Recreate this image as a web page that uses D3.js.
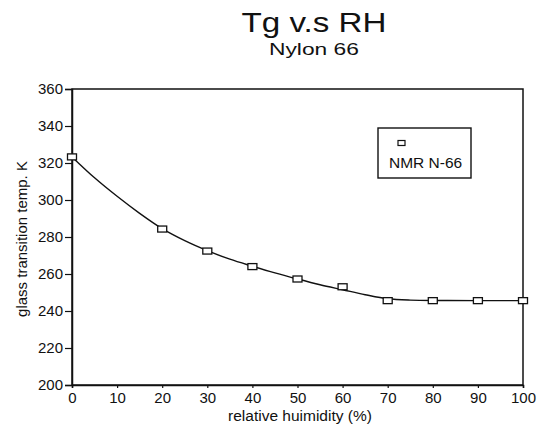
<!DOCTYPE html>
<html>
<head>
<meta charset="utf-8">
<script src="https://cdn.jsdelivr.net/npm/d3@7"></script>
<style>
  body { margin: 0; background: #fff; }
  svg text { font-family: "Liberation Sans", Arial, sans-serif; fill: #111; }
</style>
</head>
<body>
<div id="chart"></div>
<script>
// measured points (NMR N-66)
const rh = [0, 20, 30, 40, 50, 60, 70, 80, 90, 100];
const tg = [323.3, 284.3, 272.4, 264.0, 257.3, 253.1, 245.6, 245.6, 245.6, 245.6];

// fitted curve
const fitRh = [0, 5, 10, 15, 20, 25, 30, 35, 40, 45, 50, 55, 60, 65, 70, 75, 80, 90, 100];
const fitTg = [323.3, 312, 302, 292.8, 284.5, 278, 272.6, 268, 264.2, 260.6, 257.3, 254.2, 251.5, 248.8, 246.6, 245.9, 245.7, 245.6, 245.6];

const xTicks = [0, 10, 20, 30, 40, 50, 60, 70, 80, 90, 100];
const yTicks = [200, 220, 240, 260, 280, 300, 320, 340, 360];

const svgWidth = 538;
const svgHeight = 428;
const margin = { top: 89, right: 15, bottom: 43, left: 72 };

const svg = d3.select("#chart")
  .append("svg")
  .attr("width", svgWidth)
  .attr("height", svgHeight);

const x = d3.scaleLinear()
  .domain([0, 100])
  .range([margin.left, svgWidth - margin.right]);

const y = d3.scaleLinear()
  .domain([200, 360])
  .range([svgHeight - margin.bottom, margin.top]);

// frame
svg.append("rect")
  .attr("x", x(0))
  .attr("y", y(360))
  .attr("width", x(100) - x(0))
  .attr("height", y(200) - y(360))
  .attr("fill", "none")
  .attr("stroke", "#111")
  .attr("stroke-width", 1.5);

// axes
const xAxis = svg.append("g")
  .attr("transform", `translate(0, ${y(200)})`)
  .call(d3.axisBottom(x).tickValues(xTicks).tickSize(3).tickPadding(4));

const yAxis = svg.append("g")
  .attr("transform", `translate(${x(0)}, 0)`)
  .call(d3.axisLeft(y).tickValues(yTicks).tickSize(7).tickPadding(2));

[xAxis, yAxis].forEach(g => {
  g.select(".domain").attr("stroke", "#111").attr("stroke-width", 1.5);
  g.selectAll(".tick line").attr("stroke", "#111").attr("stroke-width", 1.2);
  g.selectAll(".tick text")
    .style("font-family", "'Liberation Sans', Arial, sans-serif")
    .style("font-size", "15px")
    .attr("fill", "#111");
});

// fitted line
const line = d3.line()
  .x((d, i) => x(fitRh[i]))
  .y(d => y(d))
  .curve(d3.curveMonotoneX);

svg.append("path")
  .datum(fitTg)
  .attr("d", line)
  .attr("fill", "none")
  .attr("stroke", "#111")
  .attr("stroke-width", 1.4);

// square markers
svg.selectAll(".pt")
  .data(rh)
  .enter().append("rect")
  .attr("class", "pt")
  .attr("x", d => x(d) - 4.5)
  .attr("y", (d, i) => y(tg[i]) - 3)
  .attr("width", 9)
  .attr("height", 6)
  .attr("fill", "#fff")
  .attr("stroke", "#111")
  .attr("stroke-width", 1.3);

// legend
const legend = svg.append("g").attr("transform", "translate(378, 128)");
legend.append("rect")
  .attr("width", 93)
  .attr("height", 50)
  .attr("fill", "#fff")
  .attr("stroke", "#111")
  .attr("stroke-width", 1.4);
legend.append("rect")
  .attr("x", 20)
  .attr("y", 12.5)
  .attr("width", 7)
  .attr("height", 5)
  .attr("fill", "#fff")
  .attr("stroke", "#111")
  .attr("stroke-width", 1.2);
legend.append("text")
  .attr("x", 11)
  .attr("y", 40)
  .style("font-size", "15.5px")
  .text("NMR N-66");

// titles
svg.append("text")
  .attr("x", 314)
  .attr("y", 32)
  .attr("text-anchor", "middle")
  .attr("textLength", 145)
  .attr("lengthAdjust", "spacingAndGlyphs")
  .style("font-size", "28px")
  .text("Tg v.s RH");

svg.append("text")
  .attr("x", 314)
  .attr("y", 55)
  .attr("text-anchor", "middle")
  .attr("textLength", 90)
  .attr("lengthAdjust", "spacingAndGlyphs")
  .style("font-size", "17px")
  .text("Nylon 66");

// axis labels
svg.append("text")
  .attr("x", 300)
  .attr("y", 421)
  .attr("text-anchor", "middle")
  .style("font-size", "15.5px")
  .text("relative huimidity (%)");

svg.append("text")
  .attr("transform", `translate(27, 239) rotate(-90)`)
  .attr("text-anchor", "middle")
  .style("font-size", "15px")
  .text("glass transition temp. K");
</script>
</body>
</html>
